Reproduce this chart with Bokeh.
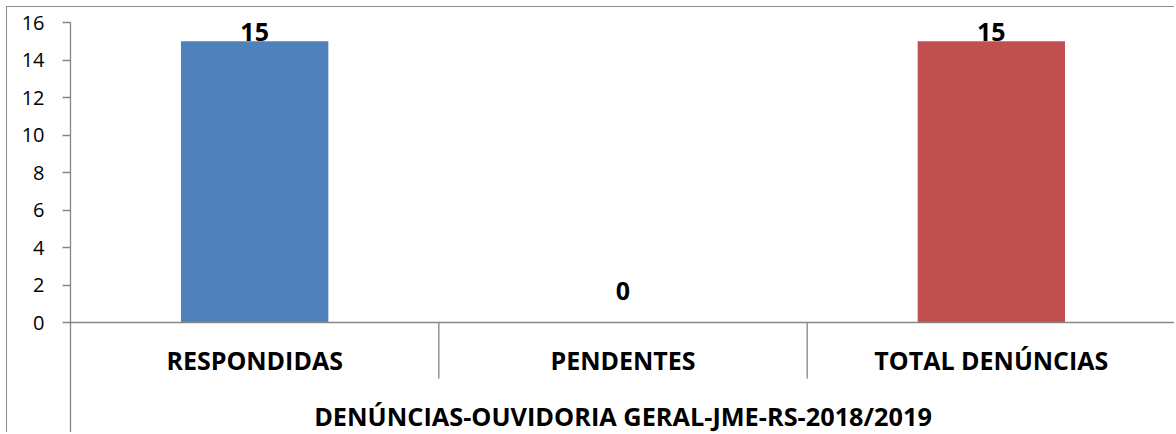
from bokeh.plotting import figure
from bokeh.models import Range1d, FixedTicker, ColumnDataSource, Span
from bokeh.core.properties import value
from bokeh.embed import file_html
from bokeh.resources import INLINE

# ---- data ----
categories = ["RESPONDIDAS", "PENDENTES", "TOTAL DENÚNCIAS"]
counts = [15, 0, 15]
bar_colors = ["#4F81BD", "#C0504D", "#C0504D"]
y_ticks = [0, 2, 4, 6, 8, 10, 12, 14, 16]
chart_title = "DENÚNCIAS-OUVIDORIA GERAL-JME-RS-2018/2019"

# ---- layout constants ----
W, H = 1168, 426
TOP, LEFT = 15, 63
Y_MAX = 16
PLOT_PX = 300                     # pixels from 0 to Y_MAX
ppu = PLOT_PX / Y_MAX
below_px = H - TOP - PLOT_PX      # pixels below the zero line
GRAY = "#868686"
FONT = "Open Sans"

n = len(categories)
centers = [i + 0.5 for i in range(n)]

p = figure(width=W, height=H,
           x_range=Range1d(0, n), y_range=Range1d(-below_px / ppu, Y_MAX),
           output_backend="svg", toolbar_location=None,
           x_axis_location=None,
           min_border_left=LEFT, min_border_top=TOP,
           min_border_right=0, min_border_bottom=0)
p.outline_line_color = None
p.xgrid.visible = False
p.ygrid.visible = False
p.background_fill_color = "white"
p.border_fill_color = "white"

ax = p.yaxis[0]
ax.ticker = FixedTicker(ticks=y_ticks)
ax.axis_line_color = GRAY
ax.axis_line_width = 1.3
ax.major_tick_line_color = GRAY
ax.major_tick_line_width = 1.3
ax.major_tick_in = 0
ax.major_tick_out = 8
ax.minor_tick_line_color = None
ax.major_label_standoff = 18
ax.major_label_text_font = FONT
ax.major_label_text_font_size = "20px"
ax.major_label_text_color = "black"

src = ColumnDataSource(dict(x=centers, top=counts, color=bar_colors,
                            label=[str(c) for c in counts]))
p.vbar(x="x", top="top", width=0.4, bottom=0, fill_color="color",
       line_color=None, source=src)

# zero line
p.add_layout(Span(location=0, dimension="width", line_color=GRAY, line_width=1.5))

# category separators
bounds = list(range(1, n))
p.segment(x0=bounds, y0=[0] * len(bounds), x1=bounds,
          y1=[-56 / ppu] * len(bounds), line_color=GRAY, line_width=1.3)

# category labels
p.text(x=centers, y=[-37 / ppu] * n, text=categories,
       text_align="center", text_baseline="middle",
       text_font=value(FONT), text_font_style="bold",
       text_font_size="25px", text_color="black")

# axis title
p.text(x=[n / 2], y=[-93 / ppu], text=[chart_title],
       text_align="center", text_baseline="middle",
       text_font=value(FONT), text_font_style="bold",
       text_font_size="25.3px", text_color="black")

# data labels: placed above bar unless it would leave the plot
gap = 22
half = 9.5
offsets = [(-(gap + half) if c * ppu + gap + 2 * half <= PLOT_PX else -half)
           for c in counts]
src.data["yoff"] = offsets
p.text(x="x", y="top", text="label", y_offset="yoff", source=src,
       text_align="center", text_baseline="middle",
       text_font=value(FONT), text_font_style="bold",
       text_font_size="25px", text_color="black")

p.styles = {"margin-top": "6px", "margin-left": "6px",
            "border-top": "1px solid #8c8c8c", "border-left": "1px solid #8c8c8c"}

open("out.html", "w").write(file_html(p, INLINE))
